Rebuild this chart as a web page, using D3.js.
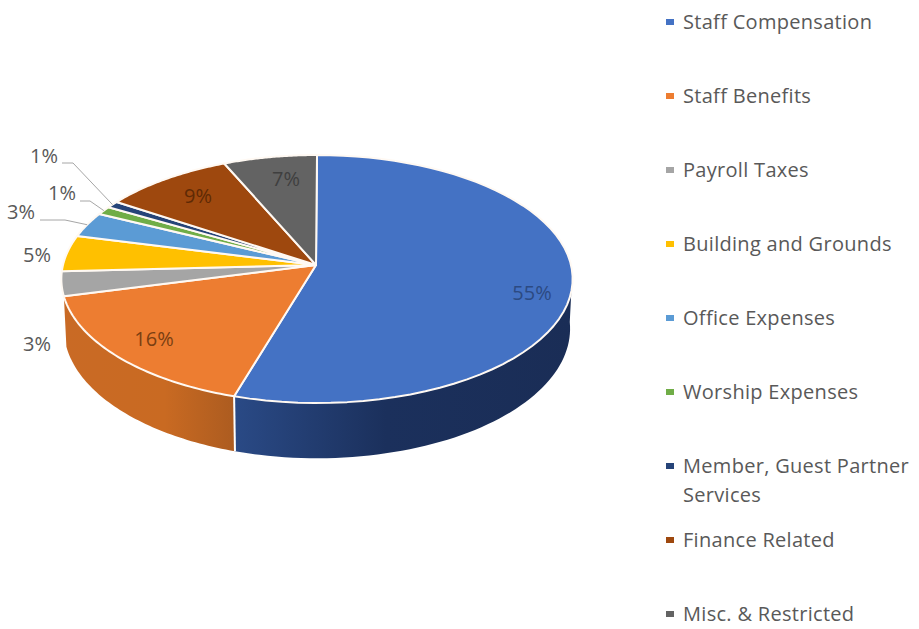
<!DOCTYPE html>
<html lang="en">
<head>
    <meta charset="UTF-8">
    <title>Expenses pie</title>
    <script src="https://d3js.org/d3.v7.min.js"></script>
    <style>
        html, body { margin: 0; padding: 0; background: #fff; }
        svg { display: block; }
        text { font-family: "Open Sans", sans-serif; fill: #595959; }
    </style>
</head>
<body>
    <script>
        const categories = ['Staff Compensation', 'Staff Benefits', 'Payroll Taxes', 'Building and Grounds',
            'Office Expenses', 'Worship Expenses', 'Member, Guest Partner Services', 'Finance Related', 'Misc. & Restricted'];
        // read from the slice edges, the labels show them rounded
        const values = [54.7, 16.3, 3.2, 4.7, 3.3, 1.1, 0.9, 9.2, 6.6];
        const colors = ['#4472c4', '#ed7d31', '#a5a5a5', '#ffc000', '#5b9bd5', '#70ad47', '#264478', '#9e480e', '#636363'];

        // where each percent label sits (same order as the categories)
        const labelPos = [[532, 292], [154, 338], [37, 343], [37, 254], [21, 211], [62, 192], [44, 155], [198, 195], [286, 178]];
        const labelColors = ['#2c4a82', '#7a3f12', '#595959', '#595959', '#595959', '#595959', '#595959', '#5e2a05', '#3f3f3f'];

        const width = 919, height = 629;
        const cx = 316, cy = 265;
        const radius = 254, foreshorten = 122.4, persp = 0.113, depth = 49, rimShift = 1;

        const svg = d3.select('body').append('svg')
            .attr('width', width)
            .attr('height', height);

        const total = d3.sum(values);
        const pie = d3.pie().sort(null)(values);
        const pct = d => d3.format('.0f')(d / total * 100) + '%';

        // circle -> screen, simple perspective so the front of the pie looks larger
        function project(a, lower) {
            const u = Math.sin(a), v = -Math.cos(a);
            const w = 1 - persp * v;
            const k = lower ? 0.99 : 1;
            return [cx + rimShift + k * radius * u / w, cy + foreshorten * v / w + (lower ? depth / w : 0)];
        }

        const line = d3.line();
        const arcPoints = (a0, a1, lower) => d3.range(0, 61).map(i => project(a0 + (a1 - a0) * i / 60, lower));

        const defs = svg.append('defs');

        function sideGradient(id, x1, x2, stops) {
            const g = defs.append('linearGradient').attr('id', id)
                .attr('gradientUnits', 'userSpaceOnUse')
                .attr('x1', x1).attr('x2', x2).attr('y1', 0).attr('y2', 0);
            g.selectAll('stop').data(stops).enter().append('stop')
                .attr('offset', d => d[0])
                .attr('stop-color', d => d[1]);
        }
        sideGradient('side-blue', 233, 573, [[0, '#2a4a86'], [0.45, '#1b305c'], [1, '#1a2d56']]);
        sideGradient('side-orange', 62, 233, [[0, '#c96a25'], [0.6, '#c96a22'], [1, '#ad5c20']]);

        // the side wall, only the slices that face the front
        const sides = [
            {start: pie[0].endAngle, end: Math.PI * 0.52, fill: 'url(#side-blue)'},
            {start: pie[1].endAngle, end: pie[0].endAngle, fill: 'url(#side-orange)'}
        ];
        svg.selectAll('.side').data(sides).enter().append('path')
            .attr('class', 'side')
            .attr('fill', d => d.fill)
            .attr('d', d => line(arcPoints(d.start, d.end, false).concat(arcPoints(d.end, d.start, true))) + 'Z');

        const seam = [project(pie[0].endAngle, false), project(pie[0].endAngle, true)];
        svg.append('path').attr('d', line(seam))
            .attr('stroke', '#fff').attr('stroke-width', 2).attr('fill', 'none');

        // top of the pie
        svg.selectAll('.slice').data(pie).enter().append('path')
            .attr('class', 'slice')
            .attr('fill', (d, i) => colors[i])
            .attr('stroke', '#fff9f3')
            .attr('stroke-width', 2)
            .attr('stroke-linejoin', 'round')
            .attr('d', d => line([[cx, cy]].concat(arcPoints(d.startAngle, d.endAngle, false))) + 'Z');

        // leader lines for the thin slices
        const leaders = [[4, [[40, 220], [65, 220]]], [5, [[80, 201], [90, 201]]], [6, [[62, 163], [73, 163]]]];
        svg.selectAll('.leader').data(leaders).enter().append('path')
            .attr('class', 'leader')
            .attr('fill', 'none')
            .attr('stroke', '#a6a6a6')
            .attr('stroke-width', 1)
            .attr('d', d => {
                const s = pie[d[0]];
                return line(d[1].concat([project((s.startAngle + s.endAngle) / 2, false)]));
            });

        svg.selectAll('.pct').data(pie).enter().append('text')
            .attr('class', 'pct')
            .attr('x', (d, i) => labelPos[i][0])
            .attr('y', (d, i) => labelPos[i][1])
            .attr('text-anchor', 'middle')
            .attr('dominant-baseline', 'central')
            .style('font-size', '20px')
            .style('fill', (d, i) => labelColors[i])
            .text(d => pct(d.value));

        // legend
        const legendY = d3.scalePoint().domain(categories).range([22, 614]);
        const legend = svg.selectAll('.legend').data(categories).enter().append('g')
            .attr('class', 'legend')
            .attr('transform', d => `translate(666,${legendY(d)})`);

        legend.append('rect')
            .attr('y', -3).attr('width', 8).attr('height', 6)
            .attr('fill', (d, i) => colors[i]);

        legend.append('text')
            .attr('x', 17)
            .attr('y', -1)
            .attr('dominant-baseline', 'central')
            .style('font-size', '20px')
            .style('letter-spacing', '0.3px')
            .each(function (d) {
                const parts = d === 'Member, Guest Partner Services' ? ['Member, Guest Partner', 'Services'] : [d];
                d3.select(this).selectAll('tspan').data(parts).enter().append('tspan')
                    .attr('x', 17)
                    .attr('dy', (p, i) => i ? 29 : 0)
                    .text(p => p);
            });
    </script>
</body>
</html>
